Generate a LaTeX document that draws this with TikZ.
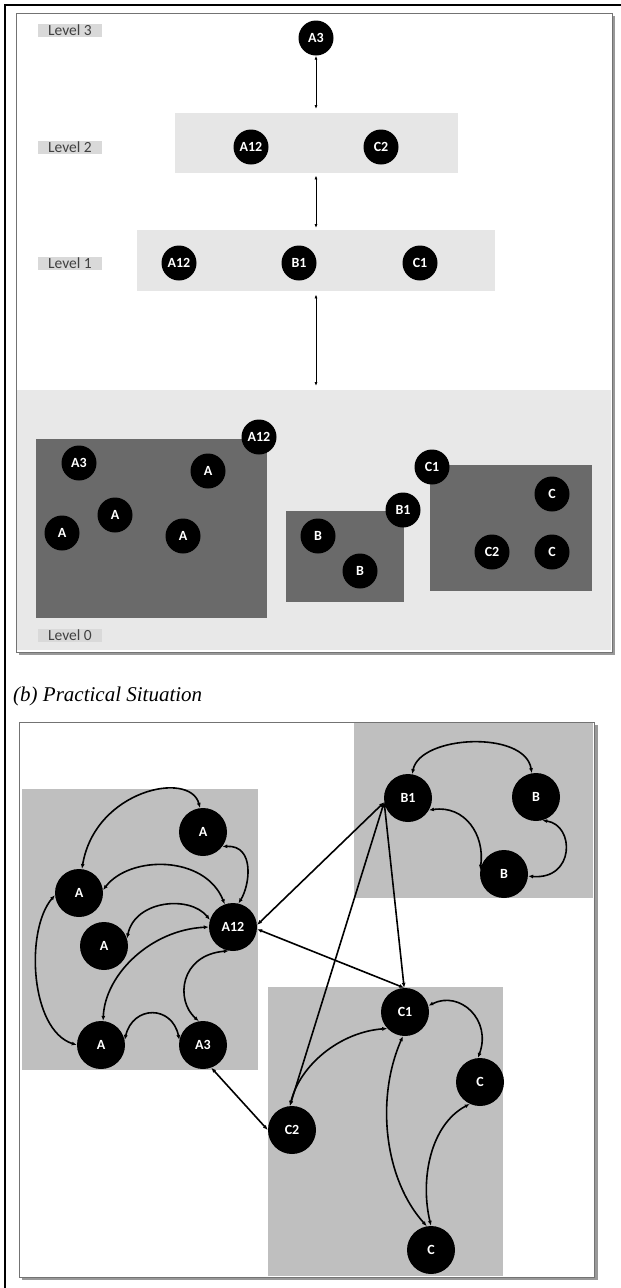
\documentclass[tikz,border=0pt]{standalone}
\usepackage{fontspec}
\setmainfont{Carlito}
\newfontfamily\capfont{Liberation Serif}
\usetikzlibrary{arrows.meta}
\definecolor{bandgray}{HTML}{E6E6E6}
\definecolor{floorgray}{HTML}{E8E8E8}
\definecolor{darkbox}{HTML}{6A6A6A}
\definecolor{clustergray}{HTML}{BFBFBF}
\definecolor{labelgray}{HTML}{D9D9D9}
\definecolor{labeltext}{HTML}{404040}
\begin{document}
\begin{tikzpicture}[x=1pt,y=-1pt,
  lvnode/.style={circle,fill=black,text=white,minimum size=35pt,inner sep=0pt,
    font=\fontsize{14}{14}\selectfont\bfseries},
  psnode/.style={circle,fill=black,text=white,minimum size=48pt,inner sep=0pt,
    font=\fontsize{14}{14}\selectfont\bfseries},
  areabox/.style={draw=none,inner sep=0pt,anchor=north west},
  lvlabel/.style={fill=labelgray,text=labeltext,font=\fontsize{15.5}{15.5}\selectfont,
    minimum width=64pt,minimum height=13pt,inner sep=0pt},
  levarrow/.style={{Latex[length=4pt,width=3pt]}-{Latex[length=4pt,width=3pt]},line width=1pt},
  link/.style={{Latex[length=5pt,width=4pt]}-{Latex[length=5pt,width=4pt]},line width=1.6pt},
]
\useasboundingbox (0,0) rectangle (621,1288);
\fill[white] (0,0) rectangle (621,1288);

% outer frame
\draw[line width=1.5pt] (5,1288) -- (5,5) -- (621,5);

% ---------------- panel (a): levels ----------------
\fill[black!40] (19,16) rectangle (615,655);
\draw[fill=white,draw=black!55,line width=1pt] (16,13) rectangle (612,652);
\node[areabox,fill=floorgray,minimum width=594pt,minimum height=260pt] (lev0) at (17,390) {};

\node[areabox,fill=bandgray,minimum width=283pt,minimum height=60pt] (band2) at (175,113) {};
\node[areabox,fill=bandgray,minimum width=358pt,minimum height=61pt] (band1) at (137,230) {};

\node[lvlabel] (lab3) at (70,30) {Level 3};
\node[lvlabel] (lab2) at (70,147) {Level 2};
\node[lvlabel] (lab1) at (70,263) {Level 1};
\node[lvlabel] (lab0) at (70,635) {Level 0};

% level nodes
\node[lvnode] (tA3) at (316,38) {A3};
\node[lvnode] (sA12) at (251,147) {A12};
\node[lvnode] (sC2) at (381,147) {C2};
\node[lvnode] (fA12) at (179,263) {A12};
\node[lvnode] (fB1) at (299,263) {B1};
\node[lvnode] (fC1) at (420,263) {C1};

\draw[levarrow,shorten >=4pt] (tA3.south) -- (tA3.south |- band2.north);
\draw[levarrow,shorten <=2pt,shorten >=2pt] (tA3.south |- band2.south) -- (tA3.south |- band1.north);
\draw[levarrow,shorten <=3pt,shorten >=4pt] (tA3.south |- band1.south) -- (tA3.south |- lev0.north);

% level 0 clusters
\node[areabox,fill=darkbox,minimum width=231pt,minimum height=179pt] (boxA) at (36,439) {};
\node[areabox,fill=darkbox,minimum width=118pt,minimum height=91pt] (boxB) at (286,511) {};
\node[areabox,fill=darkbox,minimum width=162pt,minimum height=126pt] (boxC) at (430,465) {};

\node[lvnode] (zA12) at (259,437) {A12};
\node[lvnode] (zA3) at (79,463) {A3};
\node[lvnode] (zAa) at (208,471) {A};
\node[lvnode] (zAb) at (115,515) {A};
\node[lvnode] (zAc) at (62,533) {A};
\node[lvnode] (zAd) at (183,536) {A};
\node[lvnode] (zBa) at (318,536) {B};
\node[lvnode] (zBb) at (360,571) {B};
\node[lvnode] (zB1) at (403,510) {B1};
\node[lvnode] (zC1) at (432,467) {C1};
\node[lvnode] (zCa) at (552,494) {C};
\node[lvnode] (zC2) at (492,552) {C2};
\node[lvnode] (zCb) at (552,552) {C};

% ---------------- caption ----------------
\node[anchor=west,inner sep=0pt,font=\capfont\itshape\fontsize{21}{21}\selectfont] (cap) at (13,696) {(b) Practical Situation};

% ---------------- panel (b): practical situation ----------------
\fill[black!40] (22,725) rectangle (598,1280);
\draw[fill=white,draw=black!55,line width=1pt] (19,722) rectangle (594,1277);
\node[areabox,fill=clustergray,minimum width=236pt,minimum height=281pt] (grpA) at (22,789) {};
\node[areabox,fill=clustergray,minimum width=239pt,minimum height=175pt] (grpB) at (354,723) {};
\node[areabox,fill=clustergray,minimum width=235pt,minimum height=289pt] (grpC) at (268,987) {};

\node[psnode] (pA1) at (203,832) {A};
\node[psnode] (pA2) at (79,893) {A};
\node[psnode] (pA3) at (104,946) {A};
\node[psnode] (pA12) at (233,927) {A12};
\node[psnode] (pA4) at (101,1045) {A};
\node[psnode] (pA3n) at (203,1045) {A3};
\node[psnode] (pB1) at (408,798) {B1};
\node[psnode] (pBa) at (536,797) {B};
\node[psnode] (pBb) at (504,874) {B};
\node[psnode] (pC1) at (405,1012) {C1};
\node[psnode] (pCa) at (480,1082) {C};
\node[psnode] (pC2) at (292,1130) {C2};
\node[psnode] (pCb) at (431,1250) {C};

% cluster A links
\draw[link] (pA2.83) .. controls (95,790) and (190,770) .. (pA1.97);
\draw[link] (pA1.-37) .. controls (255,845) and (250,885) .. (pA12.77);
\draw[link] (pA2.7) .. controls (130,855) and (205,855) .. (pA12.110);
\draw[link] (pA3.18) .. controls (135,900) and (190,895) .. (pA12.163);
\draw[link] (pA12.180) .. controls (150,930) and (105,975) .. (pA4.85);
\draw[link] (pA12.-100) .. controls (180,955) and (175,1000) .. (pA3n.100);
\draw[link] (pA2.185) .. controls (25,930) and (30,1030) .. (pA4.180);
\draw[link] (pA4.12) .. controls (133,1005) and (172,1005) .. (pA3n.168);

% links between clusters
\draw[link] (pA12.5) -- (pB1.190);
\draw[link] (pA12.-5) -- (pC1.92);
\draw[link] (pB1.190) -- (pC2.95);
\draw[link] (pB1.190) -- (pC1.92);
\draw[link] (pA3n.-70) -- (pC2.180);

% cluster B links
\draw[link] (pB1.80) .. controls (420,735) and (525,730) .. (pBa.100);
\draw[link] (pB1.-30) .. controls (465,805) and (485,835) .. (pBb.170);
\draw[link] (pBa.-75) .. controls (575,825) and (575,880) .. (pBb.-5);

% cluster C links
\draw[link] (pC1.223) .. controls (340,1032) and (300,1065) .. (pC2.95);
\draw[link] (pC1.15) .. controls (460,990) and (492,1020) .. (pCa.95);
\draw[link] (pC1.-95) .. controls (375,1100) and (385,1180) .. (pCb.100);
\draw[link] (pCa.-115) .. controls (430,1125) and (420,1180) .. (pCb.90);
\end{tikzpicture}
\end{document}
